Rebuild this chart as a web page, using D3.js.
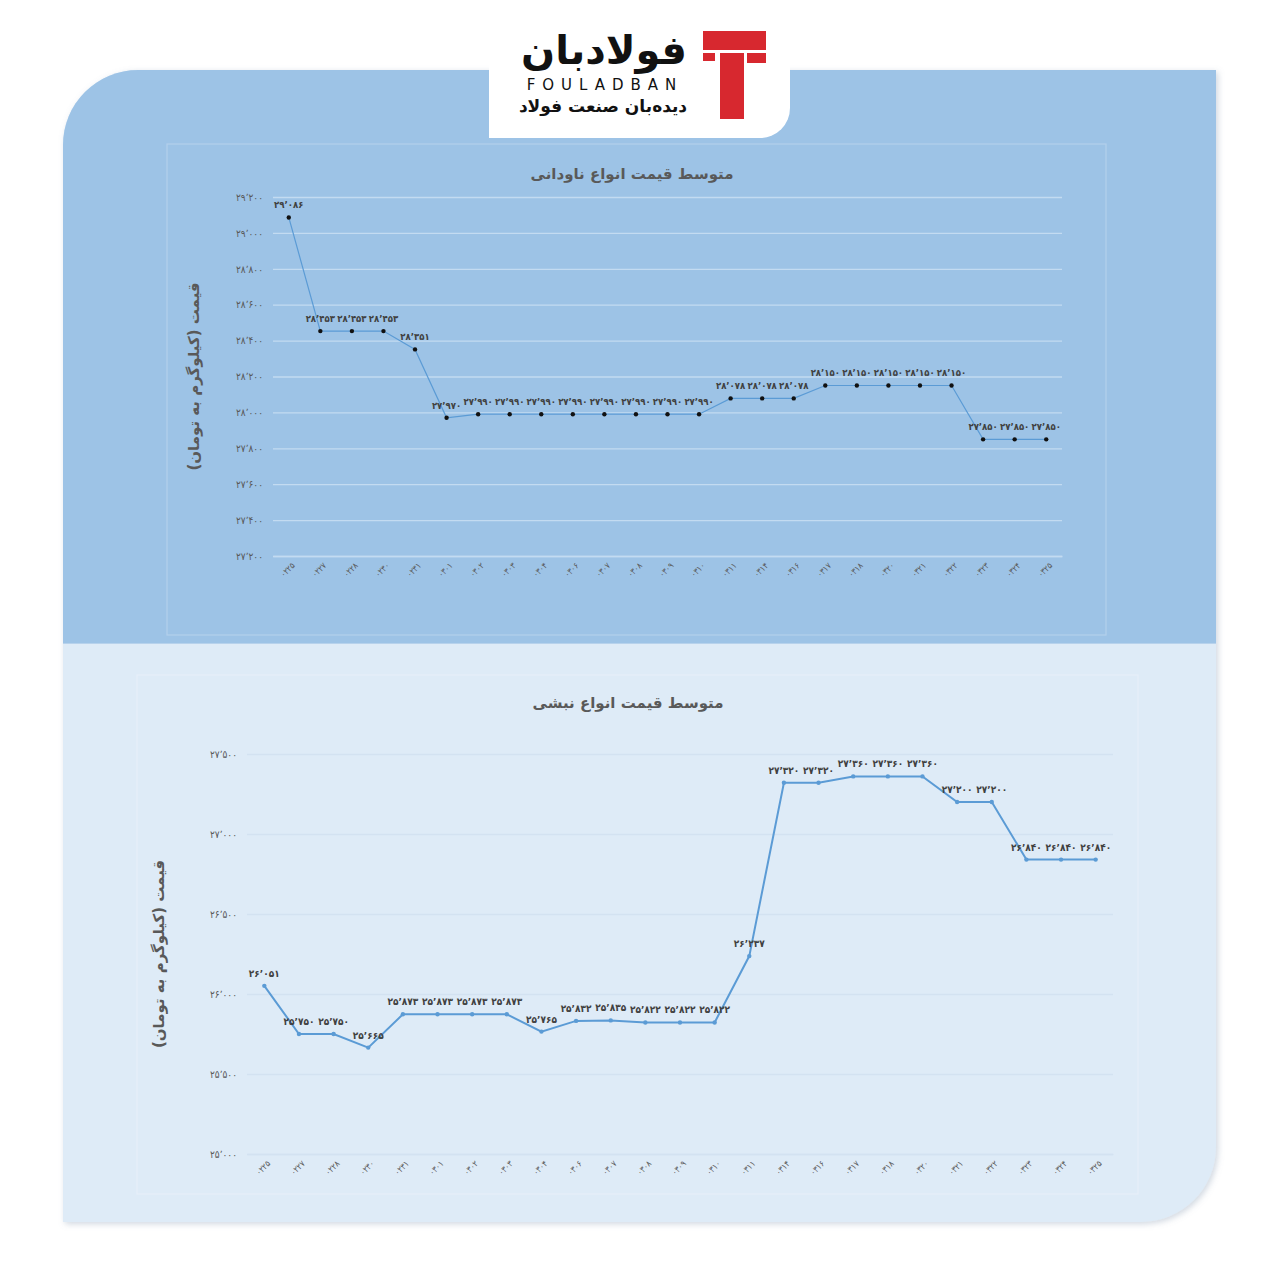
<!DOCTYPE html>
<html><head><meta charset="utf-8">
<script src="https://cdn.jsdelivr.net/npm/d3@7/dist/d3.min.js"></script>
<style>body{margin:0;background:#fff;}svg{display:block;}</style>
</head><body>
<svg id="c" width="1280" height="1280"></svg>
<script>
const dates = ["0225","0227","0228","0230","0231","0301","0302","0303","0304","0306","0307","0308","0309","0310","0311","0314","0316","0317","0318","0320","0321","0322","0323","0324","0325"];
const navdaniValues = [29086,28453,28453,28453,28351,27970,27990,27990,27990,27990,27990,27990,27990,27990,28078,28078,28078,28150,28150,28150,28150,28150,27850,27850,27850];
const nabshiValues = [26051,25750,25750,25665,25873,25873,25873,25873,25765,25832,25835,25822,25822,25822,26237,27320,27320,27360,27360,27360,27200,27200,26840,26840,26840];
const navdaniTicks = [27200,27400,27600,27800,28000,28200,28400,28600,28800,29000,29200];
const nabshiTicks = [25000,25500,26000,26500,27000,27500];
const titles = ["متوسط قیمت انواع ناودانی","متوسط قیمت انواع نبشی"];
const yTitle = "قیمت (کیلوگرم به تومان)";

const fa = s => String(s).replace(/\d/g, d => "۰۱۲۳۴۵۶۷۸۹"[d]).replace(/,/g, "٬");
const fmt = v => fa(d3.format(",")(v));
const FONT = "DejaVu Sans, sans-serif";
const COND = "DejaVu Sans Condensed, DejaVu Sans, sans-serif";

const svg = d3.select("#c");
const defs = svg.append("defs");
const card = "M63,1222 L63,145 A75,75 0 0 1 138,70 L1216,70 L1216,1147 A75,75 0 0 1 1141,1222 Z";
defs.append("clipPath").attr("id","cardclip").append("path").attr("d",card);
const f = defs.append("filter").attr("id","sh").attr("x","-5%").attr("y","-5%").attr("width","110%").attr("height","110%");
f.append("feDropShadow").attr("dx",2).attr("dy",2).attr("stdDeviation",3).attr("flood-color","#7a8fa8").attr("flood-opacity",0.35);

svg.append("path").attr("d",card).attr("fill","#DEEBF7").attr("filter","url(#sh)");
const g0 = svg.append("g").attr("clip-path","url(#cardclip)");
g0.append("rect").attr("x",0).attr("y",0).attr("width",1280).attr("height",643).attr("fill","#9DC3E6");
g0.append("rect").attr("x",0).attr("y",643).attr("width",1280).attr("height",1).attr("fill","#b7d2ec");

// logo box
svg.append("path").attr("d","M489,0 L790,0 L790,108 A30,30 0 0 1 760,138 L489,138 Z").attr("fill","#fff");
const red = "#D7282F";
svg.append("rect").attr("x",703).attr("y",31).attr("width",63).attr("height",19).attr("fill",red);
svg.append("rect").attr("x",703).attr("y",53).attr("width",12).attr("height",8).attr("fill",red);
svg.append("rect").attr("x",720).attr("y",53).attr("width",24).attr("height",66).attr("fill",red);
svg.append("rect").attr("x",747).attr("y",53).attr("width",19).attr("height",10).attr("fill",red);
svg.append("text").attr("x",604).attr("y",64).attr("text-anchor","middle").attr("font-family",FONT)
  .attr("font-weight","bold").attr("font-size",40).attr("fill","#111").text("فولادبان");
svg.append("text").attr("x",605).attr("y",90).attr("text-anchor","middle").attr("font-family",FONT)
  .attr("font-size",15).attr("letter-spacing",7).attr("fill","#111").text("FOULADBAN");
svg.append("text").attr("x",603).attr("y",112).attr("text-anchor","middle").attr("font-family",FONT)
  .attr("font-weight","bold").attr("font-size",17).attr("fill","#111").text("دیده‌بان صنعت فولاد");

function chart(o){
  const g = svg.append("g");
  g.append("rect").attr("x",o.box[0]).attr("y",o.box[1]).attr("width",o.box[2]).attr("height",o.box[3])
    .attr("fill","none").attr("stroke",o.boxStroke).attr("stroke-width",1.2);
  g.append("text").attr("x",o.titleX).attr("y",o.titleY).attr("text-anchor","middle").attr("font-family",FONT)
    .attr("font-weight","bold").attr("font-size",15).attr("fill","#595959").text(o.title);
  const x = d3.scalePoint().domain(dates).range([o.x0,o.x1]).padding(0.5);
  const y = d3.scaleLinear().domain([o.ticks[0],o.ticks[o.ticks.length-1]]).range([o.yb,o.yt]);
  const yAx = g.append("g").attr("transform",`translate(${o.x0},0)`)
    .call(d3.axisLeft(y).tickValues(o.ticks).tickSize(-(o.x1-o.x0)).tickPadding(10).tickFormat(fmt));
  yAx.select(".domain").remove();
  yAx.selectAll("line").attr("stroke",o.grid).attr("stroke-width",1.3);
  yAx.selectAll("text").attr("font-family",COND).attr("font-size",10).attr("fill","#595959");
  const xAx = g.append("g").attr("transform",`translate(0,${o.yb})`)
    .call(d3.axisBottom(x).tickSize(0).tickFormat(fa));
  xAx.select(".domain").attr("stroke",o.grid).attr("stroke-width",1.3);
  xAx.selectAll("text").attr("font-family",COND).attr("font-size",8.5).attr("fill","#595959")
    .attr("text-anchor","end").attr("transform","translate(4,8) rotate(-45)").attr("dy","0.35em").attr("y",0);
  g.append("text").attr("transform",`translate(${o.ytX},${(o.yt+o.yb)/2+o.ytDy}) rotate(-90)`)
    .attr("text-anchor","middle").attr("font-family",FONT).attr("font-weight","bold").attr("font-size",15)
    .attr("fill","#595959").text(yTitle);
  const pts = dates.map((d,i)=>[x(d),y(o.values[i]),o.values[i]]);
  g.append("path").attr("d",d3.line()(pts.map(p=>[p[0],p[1]]))).attr("fill","none")
    .attr("stroke","#5B9BD5").attr("stroke-width",o.lw);
  g.selectAll("circle.m").data(pts).join("circle").attr("cx",p=>p[0]).attr("cy",p=>p[1])
    .attr("r",2.2).attr("fill",o.marker);
  g.selectAll("text.l").data(pts).join("text").attr("x",p=>p[0]).attr("y",p=>p[1]-9)
    .attr("text-anchor","middle").attr("font-family",COND).attr("font-weight","bold").attr("font-size",o.lfs)
    .attr("fill","#404040").text(p=>fmt(p[2]));
}

chart({box:[167,144,939,491],boxStroke:"#B3D0EC",title:titles[0],titleX:632,titleY:179,
  x0:273,x1:1062,yt:197,yb:556,ticks:navdaniTicks,values:navdaniValues,grid:"#C3DBF1",
  ytX:199,ytDy:0,lw:1.2,marker:"#111",lfs:9.5});
chart({box:[137,675,1001,519],boxStroke:"#E6EFF9",title:titles[1],titleX:628,titleY:708,
  x0:247,x1:1113,yt:754,yb:1154,ticks:nabshiTicks,values:nabshiValues,grid:"#D3E2F1",
  ytX:164,ytDy:0,lw:2,marker:"#5B9BD5",lfs:10});
</script>
</body></html>
